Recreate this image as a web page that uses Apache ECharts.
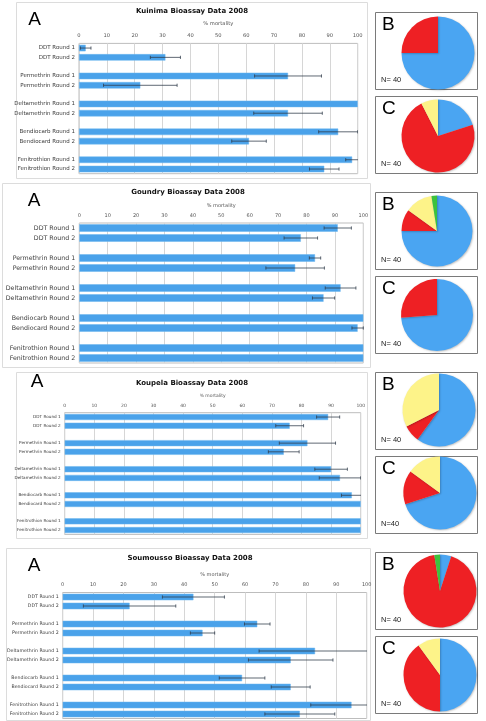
<!DOCTYPE html>
<html>
<head>
<meta charset="utf-8">
<script src="https://cdn.jsdelivr.net/npm/echarts@6/dist/echarts.min.js"></script>
<style>
html,body{margin:0;padding:0;background:#fff;}
#c{width:486px;height:721px;}
</style>
</head>
<body>
<div id="c"></div>
<script>
// ---------- DATA ----------
const categories = ["DDT Round 1","DDT Round 2","Permethrin Round 1","Permethrin Round 2","Deltamethrin Round 1","Deltamethrin Round 2","Bendiocarb Round 1","Bendiocard Round 2","Fenitrothion Round 1","Fenitrothion Round 2"];
const xTicks = [0,10,20,30,40,50,60,70,80,90,100];

const siteTitles = ["Kuinima Bioassay Data 2008","Goundry Bioassay Data 2008","Koupela Bioassay Data 2008","Soumousso Bioassay Data 2008"];

const kuinimaMortality   = [2.4, 31, 75, 22, 100, 75, 93, 61, 98, 88];
const kuinimaError       = [1.9, 5.4, 12, 13.2, null, 12.3, 7, 6.2, 2.3, 5.3];
const goundryMortality   = [91, 78, 83, 76, 92, 86, 100, 98, 100, 100];
const goundryError       = [4.8, 5.9, 2, 10.3, 5.4, 3.9, null, 2, null, null];
const koupelaMortality   = [89, 76, 82, 74, 90, 93, 97, 100, 100, 100];
const koupelaError       = [3.9, 4.7, 9.5, 5.2, 5.5, 7, 3.5, null, null, null];
const soumoussoMortality = [43, 22, 64, 46, 83, 75, 59, 75, 95, 78];
const soumoussoError     = [10.2, 15.2, 4.2, 4, 18.4, 13.9, 7.5, 6.4, 13.4, 11.5];

const pieCategories = ["Group 1","Group 2","Group 3","Group 4"];
const kuinimaB   = [30, 10, 0, 0];
const kuinimaC   = [8, 29, 3, 0];
const goundryB   = [30, 4, 5, 1];
const goundryC   = [29.5, 10.5, 0, 0];
const koupelaB   = [24, 3, 13, 0];
const koupelaC   = [28, 6, 6, 0];
const soumoussoB = [2, 37, 0, 1];
const soumoussoC = [20, 16, 4, 0];
const pieN = ["N= 40","N= 40","N= 40","N= 40","N= 40","N=40","N= 40","N= 40"];

// ---------- STYLE / LAYOUT ----------
const pieColors = ["#4aa5f2","#ee2024","#fdf389","#3dc23d"];
const barColor = "#4aa2ea";

const panels = [
  {mort:kuinimaMortality, err:kuinimaError, grid:{left:79,top:43.4,width:278.7,height:130.3}, bw:6.5, catFs:5.5, tickFs:5.2, nameGap:17, labelMargin:5,
   box:[16,2,351,176], title:[192,11], A:[34.5,20]},
  {mort:goundryMortality, err:goundryError, grid:{left:79.3,top:223,width:284,height:140}, bw:7.5, catFs:6.3, tickFs:5, nameGap:15, labelMargin:5,
   box:[2,183,368,184], title:[188,192], A:[34,201]},
  {mort:koupelaMortality, err:koupelaError, grid:{left:64.7,top:412.7,width:296,height:121.7}, bw:6, catFs:4.2, tickFs:4.5, nameGap:14, labelMargin:4,
   box:[16,372,351,166], title:[192,383], A:[37,382]},
  {mort:soumoussoMortality, err:soumoussoError, grid:{left:62.7,top:592.5,width:304,height:126}, bw:6.5, catFs:4.7, tickFs:5, nameGap:15.5, labelMargin:5,
   box:[6,548,364,172], title:[190,558], A:[34,566]}
];

const pies = [
  {d:kuinimaB, c:[438,53], r:36.5, box:[375,12,102,77]},
  {d:kuinimaC, c:[438,136], r:36.5, box:[375,96,102,77]},
  {d:goundryB, c:[437,231], r:35.5, box:[375,192,102,77]},
  {d:goundryC, c:[437,315], r:36, box:[375,276,102,77]},
  {d:koupelaB, c:[439,410], r:36.5, box:[375,372,102,77]},
  {d:koupelaC, c:[440,493], r:36.5, box:[375,456,102,77]},
  {d:soumoussoB, c:[440,591], r:36.5, box:[375,552,102,77]},
  {d:soumoussoC, c:[440,675], r:36.5, box:[375,636,102,77]}
];

// rows with blank separators between drug groups
const rowNames = [];
const blanks = [" ","  ","   ","    "];
categories.forEach((c,i)=>{ rowNames.push(c); if(i%2===1 && i<categories.length-1) rowNames.push(blanks[(i-1)/2]); });
function rowIndexOf(i){ return i + Math.floor(i/2); }

const grids=[], xAxes=[], yAxes=[], series=[], graphics=[];

panels.forEach((p,k)=>{
  graphics.push({type:'rect', z:-10, shape:{x:p.box[0]+0.5,y:p.box[1]+0.5,width:p.box[2],height:p.box[3]}, style:{fill:'#fff',stroke:'#dcdcdc',lineWidth:1}});
  graphics.push({type:'text', x:p.title[0], y:p.title[1], style:{text:siteTitles[k], fontFamily:'DejaVu Sans', fontWeight:'bold', fontSize:7, fill:'#111', align:'center', verticalAlign:'middle'}});
  graphics.push({type:'text', x:p.A[0], y:p.A[1], style:{text:'A', fontFamily:'Liberation Sans', fontSize:19, fill:'#000', align:'center', verticalAlign:'middle'}});
  grids.push(Object.assign({show:true, borderColor:'#bdbdbd', borderWidth:1, backgroundColor:'transparent'}, p.grid));
  xAxes.push({gridIndex:k, type:'value', position:'top', min:0, max:100, interval:10,
    name:'% mortality', nameLocation:'middle', nameGap:p.nameGap, nameTextStyle:{fontSize:p.tickFs, color:'#555', fontFamily:'DejaVu Sans'},
    axisLine:{show:false}, axisTick:{show:false},
    axisLabel:{fontSize:p.tickFs, color:'#555', margin:p.labelMargin, fontFamily:'DejaVu Sans', formatter:(v)=> xTicks.indexOf(v)>=0 ? String(v) : ''},
    splitLine:{lineStyle:{color:'#d6d6d6', width:1}}});
  yAxes.push({gridIndex:k, type:'category', inverse:true, data:rowNames,
    axisLine:{show:false}, axisTick:{show:false}, splitLine:{show:false},
    axisLabel:{interval:0, fontSize:p.catFs, color:'#3c3c3c', margin:4, fontFamily:'DejaVu Sans'}});
  const barData = rowNames.map(()=>'-');
  const errData = [];
  p.mort.forEach((v,i)=>{
    const r = rowIndexOf(i);
    barData[r] = v;
    if(p.err[i]!=null) errData.push([r, v - p.err[i], v + p.err[i]]);
  });
  series.push({type:'bar', xAxisIndex:k, yAxisIndex:k, data:barData, barWidth:p.bw, silent:true,
    itemStyle:{color:barColor, borderColor:'#6cb6ee', borderWidth:0.5}});
  series.push({type:'custom', xAxisIndex:k, yAxisIndex:k, data:errData, clip:true, silent:true,
    encode:{x:[1,2], y:0}, z:5,
    renderItem:function(params, api){
      const y = api.value(0);
      const a = api.coord([api.value(1), y]);
      const b = api.coord([api.value(2), y]);
      const h = 1.6;
      const st = {stroke:'#2e3a48', lineWidth:0.9, opacity:0.85};
      return {type:'group', children:[
        {type:'line', shape:{x1:a[0],y1:a[1],x2:b[0],y2:b[1]}, style:st},
        {type:'line', shape:{x1:a[0],y1:a[1]-h,x2:a[0],y2:a[1]+h}, style:st},
        {type:'line', shape:{x1:b[0],y1:b[1]-h,x2:b[0],y2:b[1]+h}, style:st}
      ]};
    }});
});

pies.forEach((p,k)=>{
  graphics.push({type:'rect', z:-10, shape:{x:p.box[0]+0.5,y:p.box[1]+0.5,width:p.box[2],height:p.box[3]}, style:{fill:'#fff',stroke:'#7a7a7a',lineWidth:1}});
  graphics.push({type:'text', z:100, x:p.box[0]+7, y:p.box[1]+13, style:{text:(k%2===0?'B':'C'), fontFamily:'Liberation Sans', fontSize:19, fill:'#000', align:'left', verticalAlign:'middle'}});
  graphics.push({type:'text', z:100, x:p.box[0]+6, y:p.box[1]+68, style:{text:pieN[k], fontFamily:'Liberation Sans', fontSize:7.5, fill:'#222', align:'left', verticalAlign:'middle'}});
  const data = [];
  p.d.forEach((v,i)=>{ if(v>0) data.push({name:pieCategories[i], value:v, itemStyle:{color:pieColors[i]}}); });
  series.push({type:'pie', center:p.c, radius:p.r, startAngle:90, clockwise:true, silent:true, animation:false,
    label:{show:false}, labelLine:{show:false},
    itemStyle:{borderWidth:0, shadowBlur:2, shadowColor:'rgba(0,0,0,0.25)', shadowOffsetX:0.8, shadowOffsetY:0.8},
    data:data});
});

const chart = echarts.init(document.getElementById('c'));
chart.setOption({
  animation:false,
  backgroundColor:'#fff',
  grid:grids, xAxis:xAxes, yAxis:yAxes, series:series,
  graphic:{elements:graphics}
});
</script>
</body>
</html>
